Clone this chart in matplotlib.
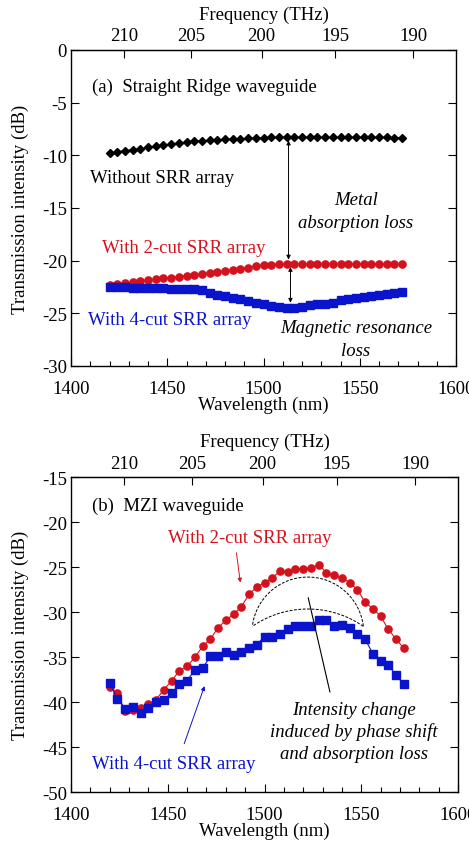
import numpy as np
import matplotlib
matplotlib.use('Agg')
import matplotlib.pyplot as plt

plt.rcParams['font.family'] = ['Liberation Serif', 'DejaVu Serif']
plt.rcParams['axes.unicode_minus'] = False

RED = '#d4121e'
BLUE = '#0a14cc'
FS = 13.5

# wavelengths (nm), same grid for every series
wl = np.arange(1420, 1573, 4)

# (a) straight ridge waveguide
ridge_none = [-9.79, -9.66, -9.57, -9.47, -9.38, -9.25, -9.13, -9.03, -8.94, -8.84,
              -8.75, -8.68, -8.62, -8.59, -8.52, -8.49, -8.46, -8.43, -8.40, -8.37,
              -8.33, -8.30, -8.30, -8.30, -8.30, -8.30, -8.30, -8.30, -8.30, -8.30,
              -8.30, -8.30, -8.30, -8.30, -8.30, -8.30, -8.31, -8.32, -8.33]
ridge_2cut = [-22.34, -22.24, -22.15, -22.05, -21.93, -21.83, -21.77, -21.67, -21.61, -21.52,
              -21.42, -21.36, -21.26, -21.13, -21.04, -20.94, -20.85, -20.75, -20.66, -20.50,
              -20.41, -20.37, -20.34, -20.31, -20.28, -20.31, -20.31, -20.31, -20.31, -20.31,
              -20.31, -20.31, -20.31, -20.31, -20.31, -20.32, -20.33, -20.34, -20.36]
ridge_4cut = [-22.53, -22.53, -22.53, -22.56, -22.59, -22.59, -22.62, -22.62, -22.69, -22.69,
              -22.72, -22.72, -22.75, -23.07, -23.26, -23.35, -23.54, -23.60, -23.83, -24.02,
              -24.11, -24.33, -24.43, -24.49, -24.46, -24.37, -24.21, -24.14, -24.08, -24.02,
              -23.76, -23.67, -23.54, -23.41, -23.35, -23.29, -23.19, -23.07, -23.00]

# (b) MZI waveguide
mzi_2cut = [-38.3, -39.0, -41.0, -40.9, -40.6, -40.2, -39.7, -38.6, -37.6, -36.5,
            -36.0, -35.0, -33.8, -33.0, -31.7, -30.9, -30.2, -29.4, -28.0, -27.2,
            -26.7, -26.2, -25.4, -25.5, -25.2, -25.15, -25.1, -24.7, -25.6, -25.9,
            -26.2, -26.7, -27.5, -28.9, -29.6, -30.45, -31.9, -33.0, -34.0]
mzi_4cut = [-37.9, -39.6, -40.75, -40.55, -41.15, -40.6, -40.0, -39.7, -39.0, -38.0,
            -37.6, -36.4, -36.2, -34.9, -34.9, -34.4, -34.8, -34.4, -34.0, -33.6,
            -32.7, -32.8, -32.4, -31.85, -31.5, -31.55, -31.5, -30.85, -30.85, -31.55,
            -31.4, -31.8, -32.4, -33.0, -34.6, -35.4, -35.9, -37.0, -38.0]

freq_ticks = [210, 205, 200, 195, 190]
C = 299792.458  # nm*THz


def style_axes(ax, ylim, yticks):
    ax.set_xlim(1400, 1600)
    ax.set_ylim(*ylim)
    ax.set_xticks(np.arange(1400, 1601, 50))
    ax.set_xticks(np.arange(1400, 1601, 10), minor=True)
    ax.set_yticks(yticks)
    ax.tick_params(axis='x', which='major', direction='in', length=6, width=0.8,
                   labelsize=FS, top=False, pad=10)
    ax.tick_params(axis='x', which='minor', direction='in', length=3.5, width=0.8, top=False)
    ax.tick_params(axis='y', direction='in', length=6, width=0.8, right=True,
                   labelsize=FS, pad=3)
    for s in ax.spines.values():
        s.set_linewidth(1.0)
    ax.set_xlabel('Wavelength (nm)', fontsize=FS, labelpad=-1)
    ax.set_ylabel('Transmission intensity (dB)', fontsize=FS, labelpad=9)
    top = ax.secondary_xaxis('top', functions=(lambda x: C / np.maximum(x, 1e-9),
                                               lambda f: C / np.maximum(f, 1e-9)))
    top.set_xticks(freq_ticks)
    top.set_xticklabels([str(f) for f in freq_ticks])
    top.tick_params(direction='in', length=6, width=0.8, labelsize=FS, pad=4)
    top.xaxis.set_minor_locator(matplotlib.ticker.NullLocator())
    top.set_xlabel('Frequency (THz)', fontsize=FS, labelpad=6)


fig = plt.figure(figsize=(4.69, 8.45), dpi=100)

# ---- panel (a)
ax1 = fig.add_axes([0.1514, 0.5657, 0.8209, 0.374])
ax1.plot(wl, ridge_none, color='black', marker='D', markersize=4.4, lw=0.8)
ax1.plot(wl, ridge_2cut, color=RED, marker='o', markersize=5.2, lw=0.8)
ax1.plot(wl, ridge_4cut, color=BLUE, marker='s', markersize=5.2, lw=0.8)
style_axes(ax1, (-30, 0), np.arange(-30, 1, 5))

ax1.text(0.055, 0.885, '(a)  Straight Ridge waveguide', transform=ax1.transAxes,
         fontsize=FS, va='center')
ax1.text(1410, -12.1, 'Without SRR array', fontsize=FS, va='center')
ax1.text(1416, -18.8, 'With 2-cut SRR array', fontsize=FS, va='center', color=RED)
ax1.text(1409, -25.6, 'With 4-cut SRR array', fontsize=FS, va='center', color=BLUE)
ax1.text(1548, -14.2, 'Metal', fontsize=FS, style='italic', ha='center', va='center')
ax1.text(1548, -16.4, 'absorption loss', fontsize=FS, style='italic', ha='center', va='center')
ax1.text(1548, -26.3, 'Magnetic resonance', fontsize=FS, style='italic', ha='center', va='center')
ax1.text(1548, -28.5, 'loss', fontsize=FS, style='italic', ha='center', va='center')
ax1.annotate('', xy=(1513, -8.6), xytext=(1513, -19.9),
             arrowprops=dict(arrowstyle='<|-|>', color='black', lw=0.7,
                             mutation_scale=6, shrinkA=0, shrinkB=0))
ax1.annotate('', xy=(1514, -20.6), xytext=(1514, -24.0),
             arrowprops=dict(arrowstyle='<|-|>', color='black', lw=0.7,
                             mutation_scale=6, shrinkA=0, shrinkB=0))

# ---- panel (b)
ax2 = fig.add_axes([0.1514, 0.0612, 0.8252, 0.3728])
ax2.plot(wl, mzi_2cut, color=RED, marker='o', markersize=5.2, lw=0.8)
ax2.plot(wl, mzi_4cut, color=BLUE, marker='s', markersize=5.2, lw=0.8)
style_axes(ax2, (-50, -15), np.arange(-50, -14, 5))

ax2.text(0.055, 0.91, '(b)  MZI waveguide', transform=ax2.transAxes,
         fontsize=FS, va='center')
ax2.text(1450, -21.7, 'With 2-cut SRR array', fontsize=FS, va='center', color=RED)
ax2.text(1411, -46.8, 'With 4-cut SRR array', fontsize=FS, va='center', color=BLUE)
ax2.text(1546, -40.8, 'Intensity change', fontsize=FS, style='italic', ha='center', va='center')
ax2.text(1546, -43.2, 'induced by phase shift', fontsize=FS, style='italic', ha='center', va='center')
ax2.text(1546, -45.7, 'and absorption loss', fontsize=FS, style='italic', ha='center', va='center')
ax2.annotate('', xy=(1487.5, -26.7), xytext=(1485.5, -23.4),
             arrowprops=dict(arrowstyle='-|>', color=RED, lw=0.7,
                             mutation_scale=6, shrinkA=0, shrinkB=0))
ax2.annotate('', xy=(1469, -38.2), xytext=(1458.5, -44.6),
             arrowprops=dict(arrowstyle='-|>', color=BLUE, lw=0.7,
                             mutation_scale=6, shrinkA=0, shrinkB=0))
ax2.plot([1522.6, 1533.8], [-28.4, -38.85], color='black', lw=0.8)

# dashed crescent (circle arcs in pixel space -> data units)
px_x, px_y = 1.935, 9.0
t = np.radians(np.linspace(7, 173, 80))
ax2.plot(1522.4 + 55.9 / px_x * np.cos(t), -32.3 + 55.9 / px_y * np.sin(t),
         color='black', lw=0.7, ls=(0, (3, 1.5)))
t = np.radians(np.linspace(55.3, 124.7, 60))
ax2.plot(1522.4 + 97.4 / px_x * np.cos(t), -40.46 + 97.4 / px_y * np.sin(t),
         color='black', lw=0.7, ls=(0, (3, 1.5)))

fig.savefig('out.png', dpi=100)
